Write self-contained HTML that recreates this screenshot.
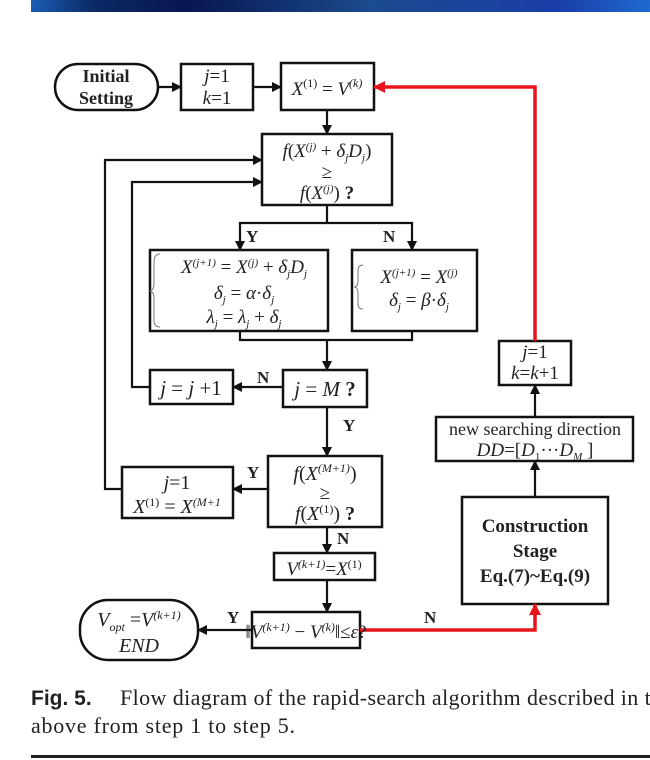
<!DOCTYPE html>
<html><head><meta charset="utf-8"><style>
html,body{margin:0;padding:0;background:#fff;width:650px;height:760px;overflow:hidden}
svg{display:block}
text{font-family:"Liberation Serif",serif;fill:#222}
.i{font-style:italic}
.b{font-weight:bold}
</style></head><body>
<svg width="650" height="760" viewBox="0 0 650 760" xmlns="http://www.w3.org/2000/svg">
<defs>
<linearGradient id="g" x1="0" x2="1" y1="0" y2="0">
<stop offset="0" stop-color="#1a5db5"/><stop offset="0.1" stop-color="#0b2a66"/><stop offset="0.25" stop-color="#081650"/><stop offset="0.55" stop-color="#1b4b8f"/><stop offset="0.85" stop-color="#1a3da8"/><stop offset="1" stop-color="#1e6ad0"/>
</linearGradient>
<marker id="a" markerWidth="10" markerHeight="10" refX="9" refY="5" orient="auto" markerUnits="userSpaceOnUse"><path d="M0,0 L10,5 L0,10 Z" fill="#111"/></marker>
<marker id="r" markerWidth="12" markerHeight="12" refX="11" refY="6" orient="auto" markerUnits="userSpaceOnUse"><path d="M0,0 L12,6 L0,12 Z" fill="#e8141c"/></marker>
</defs>
<rect x="31" y="0" width="619" height="12" fill="url(#g)"/>
<g fill="none" stroke="#111" stroke-width="2.5">
<rect x="55" y="64" width="103" height="46" rx="23"/>
<rect x="181" y="64" width="72" height="46"/>
<rect x="281" y="63" width="93" height="47"/>
<rect x="262" y="134" width="130" height="71"/>
<rect x="150" y="250" width="178" height="81"/>
<rect x="352" y="250" width="125" height="81"/>
<rect x="283" y="370" width="84" height="37"/>
<rect x="150" y="370" width="83" height="34"/>
<rect x="268" y="456" width="114" height="71"/>
<rect x="122" y="467" width="111" height="51"/>
<rect x="274" y="553" width="101" height="27"/>
<rect x="252" y="612" width="108" height="36"/>
<rect x="80" y="600" width="118" height="60" rx="28"/>
<rect x="462" y="497" width="146" height="107"/>
<rect x="436" y="417" width="197" height="44"/>
<rect x="499" y="341" width="72" height="44"/>
</g>
<g fill="none" stroke="#777" stroke-width="1">
<path d="M160,254 Q154,254 154,262 L154,284 Q154,290 150,291 Q154,292 154,298 L154,320 Q154,327 160,327"/>
<path d="M363,265 Q358,265 358,271 L358,281 Q358,286 355,287 Q358,288 358,293 L358,304 Q358,309 363,309"/>
</g>
<g fill="none" stroke="#111" stroke-width="2.2">
<line x1="158" y1="87" x2="181" y2="87" marker-end="url(#a)"/>
<line x1="253" y1="87" x2="281" y2="87" marker-end="url(#a)"/>
<line x1="327" y1="110" x2="327" y2="134" marker-end="url(#a)"/>
<polyline points="327,205 327,223 240,223 240,250" marker-end="url(#a)"/>
<polyline points="327,223 412,223 412,250" marker-end="url(#a)"/>
<polyline points="240,331 240,340 412,340 412,331"/>
<line x1="327" y1="340" x2="327" y2="370" marker-end="url(#a)"/>
<line x1="283" y1="387" x2="233" y2="387" marker-end="url(#a)"/>
<polyline points="150,387 132,387 132,182 262,182" marker-end="url(#a)"/>
<line x1="327" y1="407" x2="327" y2="456" marker-end="url(#a)"/>
<line x1="268" y1="489" x2="233" y2="489" marker-end="url(#a)"/>
<polyline points="122,489 105,489 105,160 262,160" marker-end="url(#a)"/>
<line x1="327" y1="527" x2="327" y2="553" marker-end="url(#a)"/>
<line x1="327" y1="580" x2="327" y2="612" marker-end="url(#a)"/>
<line x1="252" y1="630" x2="198" y2="630" marker-end="url(#a)"/>
<line x1="535" y1="497" x2="535" y2="461" marker-end="url(#a)"/>
<line x1="535" y1="417" x2="535" y2="385" marker-end="url(#a)"/>
</g>
<g fill="none" stroke="#e8141c" stroke-width="3.5">
<polyline points="535,341 535,87 374,87" marker-end="url(#r)"/>
<polyline points="360,630 535,630 535,604" marker-end="url(#r)"/>
</g>
<g font-size="19">
<text x="106" y="82" text-anchor="middle" class="b" font-size="18">Initial</text>
<text x="106" y="104" text-anchor="middle" class="b" font-size="18">Setting</text>
<text x="217" y="82" text-anchor="middle" class="i">j<tspan font-style="normal">=1</tspan></text>
<text x="217" y="104" text-anchor="middle" class="i">k<tspan font-style="normal">=1</tspan></text>
<text x="327" y="95" text-anchor="middle"><tspan class="i">X</tspan><tspan font-size="12" dy="-8">(1)</tspan><tspan dy="8"> = </tspan><tspan class="i">V</tspan><tspan font-size="12" dy="-8" class="i">(k)</tspan></text>
<text x="327" y="157" text-anchor="middle" class="i">f<tspan font-style="normal">(</tspan>X<tspan font-size="11" dy="-7">(j)</tspan><tspan dy="7" font-style="normal"> + </tspan>δ<tspan font-size="11" dy="4">j</tspan><tspan dy="-4">D</tspan><tspan font-size="11" dy="4">j</tspan><tspan dy="-4" font-style="normal">)</tspan></text>
<text x="327" y="178" text-anchor="middle">≥</text>
<text x="327" y="199" text-anchor="middle" class="i">f<tspan font-style="normal">(</tspan>X<tspan font-size="11" dy="-7">(j)</tspan><tspan dy="7" font-style="normal">) </tspan><tspan class="b" font-style="normal">?</tspan></text>
<text x="246" y="242" class="b" font-size="17">Y</text>
<text x="383" y="242" class="b" font-size="17">N</text>
<text x="244" y="273" text-anchor="middle" class="i">X<tspan font-size="11" dy="-7">(j+1)</tspan><tspan dy="7" font-style="normal"> = </tspan>X<tspan font-size="11" dy="-7">(j)</tspan><tspan dy="7" font-style="normal"> + </tspan>δ<tspan font-size="11" dy="4">j</tspan><tspan dy="-4">D</tspan><tspan font-size="11" dy="4">j</tspan></text>
<text x="244" y="299" text-anchor="middle" class="i">δ<tspan font-size="11" dy="4">j</tspan><tspan dy="-4" font-style="normal"> = </tspan>α<tspan font-style="normal">·</tspan>δ<tspan font-size="11" dy="4">j</tspan></text>
<text x="244" y="323" text-anchor="middle" class="i">λ<tspan font-size="11" dy="4">j</tspan><tspan dy="-4" font-style="normal"> = </tspan>λ<tspan font-size="11" dy="4">j</tspan><tspan dy="-4" font-style="normal"> + </tspan>δ<tspan font-size="11" dy="4">j</tspan></text>
<text x="419" y="283" text-anchor="middle" class="i">X<tspan font-size="11" dy="-7">(j+1)</tspan><tspan dy="7" font-style="normal"> = </tspan>X<tspan font-size="11" dy="-7">(j)</tspan></text>
<text x="419" y="306" text-anchor="middle" class="i">δ<tspan font-size="11" dy="4">j</tspan><tspan dy="-4" font-style="normal"> = </tspan>β<tspan font-style="normal">·</tspan>δ<tspan font-size="11" dy="4">j</tspan></text>
<text x="325" y="396" text-anchor="middle" font-size="21" class="i">j<tspan font-style="normal"> = </tspan>M<tspan font-style="normal" class="b">  ?</tspan></text>
<text x="191" y="395" text-anchor="middle" font-size="21" class="i">j<tspan font-style="normal"> = </tspan>j<tspan font-style="normal"> +1</tspan></text>
<text x="257" y="383" class="b" font-size="17">N</text>
<text x="343" y="431" class="b" font-size="17">Y</text>
<text x="325" y="480" text-anchor="middle" font-size="20" class="i">f<tspan font-style="normal">(</tspan>X<tspan font-size="12" dy="-8">(M+1)</tspan><tspan dy="8" font-style="normal">)</tspan></text>
<text x="325" y="499" text-anchor="middle">≥</text>
<text x="325" y="520" text-anchor="middle" font-size="20" class="i">f<tspan font-style="normal">(</tspan>X<tspan font-size="12" dy="-7" font-style="normal">(1)</tspan><tspan dy="7" font-style="normal">) </tspan><tspan class="b" font-style="normal">?</tspan></text>
<text x="247" y="478" class="b" font-size="17">Y</text>
<text x="177" y="489" text-anchor="middle" font-size="20" class="i">j<tspan font-style="normal">=1</tspan></text>
<text x="177" y="513" text-anchor="middle" font-size="20" class="i">X<tspan font-size="12" dy="-7" font-style="normal">(1)</tspan><tspan dy="7" font-style="normal"> = </tspan>X<tspan font-size="12" dy="-7">(M+1</tspan></text>
<text x="337" y="544" class="b" font-size="17">N</text>
<text x="324" y="575" text-anchor="middle" class="i">V<tspan font-size="12" dy="-7">(k+1)</tspan><tspan dy="7" font-style="normal">=</tspan>X<tspan font-size="12" dy="-7" font-style="normal">(1)</tspan></text>
<text x="306" y="638" text-anchor="middle" class="i"><tspan font-style="normal">‖</tspan>V<tspan font-size="12" dy="-7">(k+1)</tspan><tspan dy="7" font-style="normal"> − </tspan>V<tspan font-size="12" dy="-7">(k)</tspan><tspan dy="7" font-style="normal">‖≤</tspan>ε<tspan font-style="normal">?</tspan></text>
<text x="227" y="623" class="b" font-size="17">Y</text>
<text x="424" y="623" class="b" font-size="17">N</text>
<text x="139" y="626" text-anchor="middle" font-size="20" class="i">V<tspan font-size="12" dy="5">opt</tspan><tspan dy="-5" font-style="normal"> =</tspan>V<tspan font-size="12" dy="-7">(k+1)</tspan></text>
<text x="139" y="652" text-anchor="middle" font-size="20" class="i">END</text>
<text x="535" y="532" text-anchor="middle" class="b">Construction</text>
<text x="535" y="557" text-anchor="middle" class="b">Stage</text>
<text x="535" y="582" text-anchor="middle" class="b">Eq.(7)~Eq.(9)</text>
<text x="535" y="435" text-anchor="middle" font-size="18">new searching direction</text>
<text x="535" y="456" text-anchor="middle" class="i">DD<tspan font-style="normal">=[</tspan>D<tspan font-size="11" dy="4" font-style="normal">1</tspan><tspan dy="-4" font-style="normal">···</tspan>D<tspan font-size="11" dy="4">M</tspan><tspan dy="-4" font-style="normal"> ]</tspan></text>
<text x="535" y="358" text-anchor="middle" class="i">j<tspan font-style="normal">=1</tspan></text>
<text x="535" y="379" text-anchor="middle" class="i">k<tspan font-style="normal">=</tspan>k<tspan font-style="normal">+1</tspan></text>
</g>
<text x="31" y="705" font-size="21" style="font-family:'Liberation Sans',sans-serif;font-weight:bold">Fig. 5.</text>
<text x="120" y="705" font-size="22" letter-spacing="0.4">Flow diagram of the rapid-search algorithm described in the</text>
<text x="31" y="733" font-size="22" textLength="264" lengthAdjust="spacing">above from step 1 to step 5.</text>
<rect x="31" y="755" width="619" height="3" fill="#222"/>
</svg>
</body></html>
